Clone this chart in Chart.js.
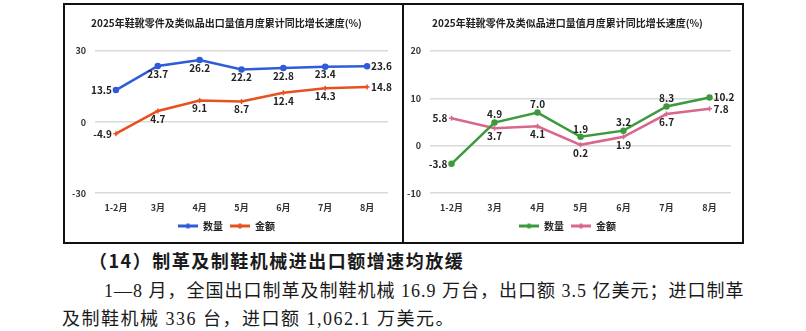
<!DOCTYPE html>
<html>
<head>
<meta charset="utf-8">
<script src="https://cdn.jsdelivr.net/npm/chart.js@4.4.1/dist/chart.umd.min.js"></script>
<style>
  html, body { margin: 0; padding: 0; background: #fff; }
  body { width: 806px; height: 331px; position: relative; overflow: hidden; }
  .frame { position: absolute; left: 63px; top: 3px; width: 677px; height: 237px; border: 2px solid #111; }
  .divider { position: absolute; left: 402px; top: 3px; width: 2px; height: 241px; background: #111; }
  canvas { position: absolute; }
  .txt { position: absolute; white-space: nowrap; color: #1a1a1a; font-size: 18px; line-height: 18px;
         font-family: "Liberation Serif", "Noto Sans CJK SC", serif; }
  .head { font-family: "Noto Sans CJK SC", sans-serif; font-weight: bold; letter-spacing: 1.5px; }
</style>
</head>
<body>
<div class="frame"></div>
<div class="divider"></div>
<canvas id="exportChart" width="337" height="236" style="left:65px;top:5px"></canvas>
<canvas id="importChart" width="338" height="236" style="left:404px;top:5px"></canvas>

<div class="txt head" style="left:89px;top:251px">（14）制革及制鞋机械进出口额增速均放缓</div>
<div class="txt" style="left:104px;top:282px;letter-spacing:1px">1—8 月，全国出口制革及制鞋机械 16.9 万台，出口额 3.5 亿美元；进口制革</div>
<div class="txt" style="left:62px;top:310px;letter-spacing:1.5px">及制鞋机械 336 台，进口额 1,062.1 万美元。</div>

<script>
// 月份
const months = ['1-2月', '3月', '4月', '5月', '6月', '7月', '8月'];

// 出口（%）
const exportQty = [13.5, 23.7, 26.2, 22.2, 22.8, 23.4, 23.6];
const exportVal = [-4.9, 4.7, 9.1, 8.7, 12.4, 14.3, 14.8];
const exportTicks = [-30, 0, 30];

// 进口（%）
const importQty = [-3.8, 4.9, 7.0, 1.9, 3.2, 8.3, 10.2];
const importVal = [5.8, 3.7, 4.1, 0.2, 1.9, 6.7, 7.8];
const importTicks = [-10, 0, 10, 20];

Chart.defaults.font.family = "'Noto Sans CJK SC', sans-serif";
Chart.defaults.color = '#222';

// 数据标签
const valueLabels = {
    id: 'valueLabels',
    afterDatasetsDraw(chart, args, opts) {
        const ctx = chart.ctx;
        ctx.save();
        ctx.font = 'bold 10px "Noto Sans CJK SC"';
        ctx.fillStyle = '#222';
        chart.data.datasets.forEach((ds, i) => {
            const meta = chart.getDatasetMeta(i);
            const pos = opts.positions[i];
            meta.data.forEach((pt, j) => {
                let x = pt.x, y = pt.y;
                const p = pos[j];
                if (p === 'l') {
                    ctx.textAlign = 'right'; ctx.textBaseline = 'middle'; x -= 4;
                } else if (p === 'r') {
                    ctx.textAlign = 'left'; ctx.textBaseline = 'middle'; x += 4;
                } else if (p === 'a') {
                    ctx.textAlign = 'center'; ctx.textBaseline = 'bottom'; y -= 3;
                } else {
                    ctx.textAlign = 'center'; ctx.textBaseline = 'top'; y += 3;
                }
                ctx.fillText(ds.data[j].toFixed(1), x, y);
            });
        });
        ctx.restore();
    }
};

function legendMark(color) {
    const c = document.createElement('canvas');
    c.width = 20; c.height = 7;
    const g = c.getContext('2d');
    g.strokeStyle = color; g.lineWidth = 3;
    g.beginPath(); g.moveTo(0, 3.5); g.lineTo(20, 3.5); g.stroke();
    g.fillStyle = color;
    g.beginPath(); g.arc(10, 3.5, 2.5, 0, Math.PI * 2); g.fill();
    return c;
}

function series(label, data, color, style) {
    return {
        label: label,
        data: data,
        borderColor: color,
        backgroundColor: color,
        borderWidth: 2.5,
        pointStyle: style,
        pointRadius: 2.5,
        pointBorderWidth: 1.5,
        tension: 0,
        legendMark: legendMark(color)
    };
}

function makeChart(id, title, qty, val, colors, ticks, positions, pad) {
    return new Chart(document.getElementById(id), {
        type: 'line',
        data: {
            labels: months,
            datasets: [
                series('数量', qty, colors[0], 'circle'),
                series('金额', val, colors[1], 'cross')
            ]
        },
        options: {
            responsive: false,
            animation: false,
            layout: { padding: { left: 0, right: pad.right, top: 0, bottom: 0 } },
            scales: {
                x: {
                    offset: true,
                    grid: { display: false, offset: true },
                    border: { display: false },
                    ticks: { padding: 1, font: { size: 9, weight: 'bold' }, color: '#333' }
                },
                y: {
                    min: ticks[0],
                    max: ticks[ticks.length - 1],
                    afterFit(scale) { scale.width = pad.left; },
                    afterBuildTicks(scale) { scale.ticks = ticks.map(v => ({ value: v })); },
                    grid: { color: '#d9d9d9', lineWidth: 1.5, drawTicks: false },
                    border: { display: false },
                    ticks: { padding: 9, font: { size: 9, weight: 'bold' }, color: '#333' }
                }
            },
            plugins: {
                title: {
                    display: true,
                    text: title,
                    font: { size: 10, weight: 'bold' },
                    color: '#222',
                    padding: { top: 12, bottom: 22 }
                },
                legend: {
                    position: 'bottom',
                    labels: {
                        usePointStyle: true,
                        pointStyleWidth: 20,
                        padding: 7,
                        font: { size: 10, weight: 'bold' },
                        color: '#222',
                        generateLabels(chart) {
                            return chart.data.datasets.map((ds, i) => ({
                                text: ds.label,
                                pointStyle: ds.legendMark,
                                fillStyle: ds.borderColor,
                                strokeStyle: ds.borderColor,
                                lineWidth: 0,
                                hidden: false,
                                datasetIndex: i,
                                fontColor: '#222'
                            }));
                        }
                    }
                },
                tooltip: { enabled: false },
                valueLabels: { positions: positions }
            }
        },
        plugins: [valueLabels]
    });
}

makeChart('exportChart', '2025年鞋靴零件及类似品出口量值月度累计同比增长速度(%)',
    exportQty, exportVal, ['#2f5bdb', '#e8501e'], exportTicks,
    ['lbbbbbr', 'lbbbbbr'], { left: 30, right: 14 });

makeChart('importChart', '2025年鞋靴零件及类似品进口量值月度累计同比增长速度(%)',
    importQty, importVal, ['#3c9a3c', '#d9678c'], importTicks,
    ['laaaaar', 'lbbbbbr'], { left: 26, right: 11 });
</script>
</body>
</html>
